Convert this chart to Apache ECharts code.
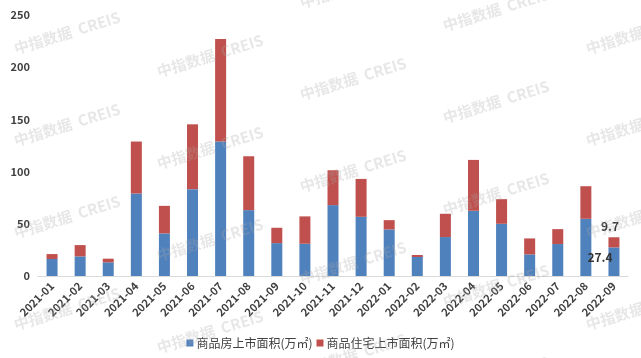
<!DOCTYPE html>
<html>
<head>
<meta charset="utf-8">
<script src="https://cdn.jsdelivr.net/npm/echarts@6/dist/echarts.min.js"></script>
<style>
    html, body { margin: 0; padding: 0; background: #fff; }
    #chart { width: 641px; height: 358px; }
</style>
</head>
<body>
<div id="chart"></div>
<script>
const months = ['2021-01', '2021-02', '2021-03', '2021-04', '2021-05', '2021-06', '2021-07',
    '2021-08', '2021-09', '2021-10', '2021-11', '2021-12', '2022-01', '2022-02', '2022-03',
    '2022-04', '2022-05', '2022-06', '2022-07', '2022-08', '2022-09'];
// 商品房上市面积 (bottom segment)
const commercial = [16.3, 18.8, 13.1, 79.0, 40.8, 83.2, 128.8, 63.1, 31.5, 30.9, 67.9,
    56.7, 44.6, 18.2, 37.3, 62.5, 50.0, 20.7, 30.6, 54.8, 27.4];
// 商品住宅上市面积 (stacked on top)
const residential = [4.7, 10.8, 3.5, 49.8, 26.4, 62.1, 98.1, 51.6, 14.7, 26.2, 33.4,
    36.3, 8.9, 1.9, 22.3, 48.7, 23.6, 15.3, 14.3, 31.2, 9.7];
const seriesNames = ['商品房上市面积(万㎡)', '商品住宅上市面积(万㎡)'];
const watermark = '中指数据  CREIS';

const chartDom = document.getElementById('chart');
const chart = echarts.init(chartDom);

const lastIdx = months.length - 1;

// watermark grid
const marks = [];
for (let c = 0; c < 5; c++) {
    for (let r = -1; r < 4; r++) {
        marks.push({
            type: 'text',
            x: 12 + c * 143,
            y: 42 + r * 92 + c * 23,
            rotation: 0.3,
            silent: true,
            z: 100,
            style: {
                text: watermark,
                fill: 'rgba(170,170,170,0.28)',
                font: 'bold 15px "Noto Sans CJK SC", sans-serif'
            }
        });
    }
}

const option = {
    animation: false,
    textStyle: {
        fontFamily: '"Noto Sans CJK SC", "DejaVu Sans", sans-serif'
    },
    legend: {
        data: seriesNames,
        bottom: 4,
        left: 'center',
        itemWidth: 7,
        itemHeight: 7,
        itemGap: 4,
        icon: 'rect',
        textStyle: {
            color: '#404040',
            fontSize: 12,
            padding: [0, 0, 0, -2]
        }
    },
    grid: {
        left: 38,
        right: 13,
        top: 15,
        bottom: 82
    },
    xAxis: {
        type: 'category',
        data: months,
        axisLine: { lineStyle: { color: '#d9d9d9' } },
        axisTick: { length: 4, lineStyle: { color: '#d9d9d9' } },
        axisLabel: {
            rotate: 45,
            interval: 0,
            color: '#404040',
            fontSize: 11,
            fontWeight: 'bold',
            margin: 8
        }
    },
    yAxis: {
        type: 'value',
        min: 0,
        max: 250,
        interval: 50,
        axisLine: { show: false },
        axisTick: { show: false },
        splitLine: { show: false },
        axisLabel: {
            color: '#404040',
            fontSize: 11,
            fontWeight: 'bold',
            margin: 8
        }
    },
    series: [
        {
            name: seriesNames[0],
            type: 'bar',
            stack: 'sum',
            barWidth: 11,
            itemStyle: { color: '#4F81BD' },
            data: commercial.map(function (v, i) {
                if (i !== lastIdx) return v;
                return {
                    value: v,
                    label: {
                        show: true,
                        position: 'inside',
                        offset: [-14, -4],
                        color: '#333',
                        fontWeight: 'bold',
                        fontSize: 12
                    }
                };
            })
        },
        {
            name: seriesNames[1],
            type: 'bar',
            stack: 'sum',
            barWidth: 11,
            itemStyle: { color: '#C0504D' },
            data: residential.map(function (v, i) {
                if (i !== lastIdx) return v;
                return {
                    value: v,
                    label: {
                        show: true,
                        position: 'top',
                        distance: 5,
                        offset: [-4, 0],
                        color: '#333',
                        fontWeight: 'bold',
                        fontSize: 12
                    }
                };
            })
        }
    ],
    graphic: marks
};

option && chart.setOption(option);
</script>
</body>
</html>
